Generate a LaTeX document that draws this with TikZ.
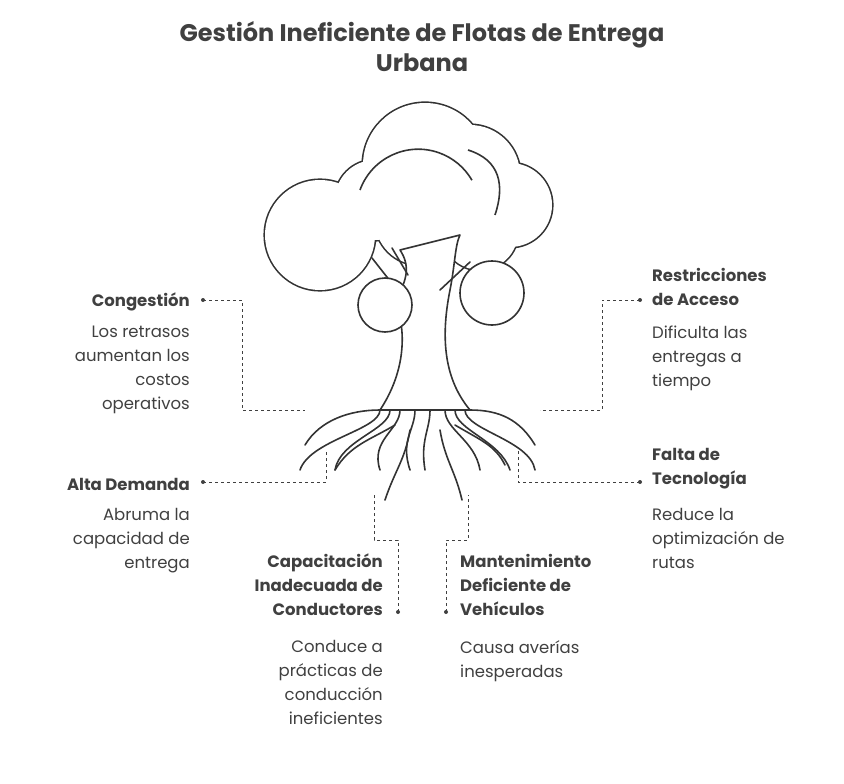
\documentclass[tikz,border=0pt]{standalone}
\usepackage{fontspec}
\setmainfont{Poppins}
\begin{document}
\begin{tikzpicture}[x=1pt,y=-1pt,
  hd/.style={font=\bfseries\fontsize{16.5}{24}\selectfont,text=black!75,inner sep=0pt},
  bd/.style={font=\fontsize{16.5}{24}\selectfont,text=black!75,inner sep=0pt},
  con/.style={draw=black!75,dashed,line width=1pt},
  tr/.style={draw=black!80,line width=1.6pt,fill=white,line join=round,line cap=round}]
\useasboundingbox (0,0) rectangle (844,784);
\node[font=\bfseries\fontsize{24}{30}\selectfont,text=black!75,align=center] (title) at (422,47) {Gestión Ineficiente de Flotas de Entrega\\Urbana};
% tree canopy (union outline)
\foreach \x/\y/\r in {320/235/55, 375/200/40, 425/165/62, 470/175/50, 510/205/42, 480/232/38, 420/220/45}
  \draw[draw=black!80,line width=3.2pt] (\x,\y) circle (\r);
\foreach \x/\y/\r in {320/235/55, 375/200/40, 425/165/62, 470/175/50, 510/205/42, 480/232/38, 420/220/45}
  \fill[white] (\x,\y) circle (\r);
\draw[draw=black!80,line width=1.6pt] (360,190) arc (200:330:62);
\draw[draw=black!80,line width=1.6pt] (468,150) .. controls (500,160) and (505,185) .. (495,215);
% trunk
\draw[tr] (395,300) .. controls (410,340) and (400,380) .. (380,410) -- (470,410) .. controls (445,380) and (440,340) .. (450,290)
  .. controls (455,265) and (455,245) .. (460,235) -- (400,250) .. controls (410,265) and (408,280) .. (395,300) -- cycle;
\draw[tr] (405,300) -- (372,258); \draw[tr] (408,275) -- (392,248); \draw[tr] (440,290) -- (470,262);
\draw[tr] (385,305) circle (27);
\draw[tr] (492,293) circle (32);
% roots
\foreach \a/\b/\c in {380/310/300, 390/340/335, 400/370/380, 415/400/410, 445/475/480, 455/500/510, 465/530/535, 430/420/425}
  \draw[tr,fill=none] (\a,410) .. controls (\a,430) and (\b,440) .. (\c,470);
\draw[tr,fill=none] (380,410) .. controls (350,410) and (320,420) .. (305,445);
\draw[tr,fill=none] (470,410) .. controls (500,410) and (520,420) .. (535,445);
\draw[tr,fill=none] (395,425) .. controls (370,440) and (350,445) .. (335,470);
\draw[tr,fill=none] (455,425) .. controls (480,440) and (495,445) .. (505,465);
\draw[tr,fill=none] (410,430) .. controls (405,460) and (395,470) .. (385,500);
\draw[tr,fill=none] (440,430) .. controls (445,460) and (455,470) .. (462,500);
% labels
\node[hd,anchor=east] (c1) at (190,302) {Congestión};
\node[bd,anchor=north east,align=right] (c1b) at (190,326) {Los retrasos\\aumentan los\\costos\\operativos};
\node[hd,anchor=east] (c2) at (190,484) {Alta Demanda};
\node[bd,anchor=north east,align=right] (c2b) at (190,508) {Abruma la\\capacidad de\\entrega};
\node[hd,anchor=north east,align=right] (c3) at (383,554) {Capacitación\\Inadecuada de\\Conductores};
\node[bd,anchor=north east,align=right] (c3b) at (383,640) {Conduce a\\prácticas de\\conducción\\ineficientes};
\node[hd,anchor=north west,align=left] (c4) at (460,554) {Mantenimiento\\Deficiente de\\Vehículos};
\node[bd,anchor=north west,align=left] (c4b) at (460,640) {Causa averías\\inesperadas};
\node[hd,anchor=north west,align=left] (c5) at (652,268) {Restricciones\\de Acceso};
\node[bd,anchor=north west,align=left] (c5b) at (652,326) {Dificulta las\\entregas a\\tiempo};
\node[hd,anchor=north west,align=left] (c6) at (652,448) {Falta de\\Tecnología};
\node[bd,anchor=north west,align=left] (c6b) at (652,508) {Reduce la\\optimización de\\rutas};
% connectors
\coordinate (p1) at (305,410); \coordinate (p2) at (326,452);
\coordinate (p3) at (374,495); \coordinate (p4) at (468,495);
\coordinate (p5) at (540,410); \coordinate (p6) at (518,450);
\draw[con] (203,300) -- (242,300) -- (242,410) -- (p1);
\draw[con] (203,482) -- (326,482) -- (p2);
\draw[con] (398,612) -- (398,540) -- (374,540) -- (p3);
\draw[con] (446,612) -- (446,540) -- (468,540) -- (p4);
\draw[con] (640,300) -- (602,300) -- (602,410) -- (p5);
\draw[con] (640,482) -- (518,482) -- (p6);
\foreach \p in {(203,300),(203,482),(398,612),(446,612),(640,300),(640,482)} \fill[black!75] \p circle (2);
\end{tikzpicture}
\end{document}
